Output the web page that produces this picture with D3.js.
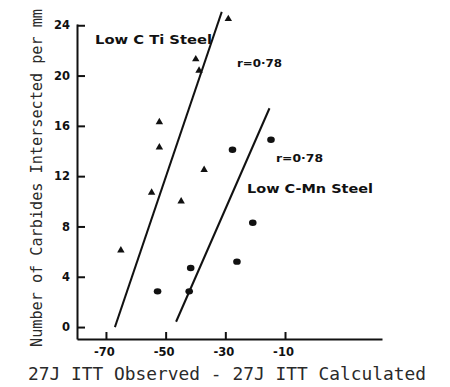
<!DOCTYPE html>
<html>
<head>
<meta charset="utf-8">
<script src="https://cdn.jsdelivr.net/npm/d3@7"></script>
<style>
  html, body { margin: 0; padding: 0; background: #fff; }
  svg { display: block; }
</style>
</head>
<body>
<svg id="chart" width="450" height="387"></svg>
<script>
// Low C Ti steel (triangles)
const tiX = [-65.0, -54.7, -52.1, -52.1, -44.8, -39.9, -38.8, -37.1, -29.0];
const tiY = [6.1, 10.7, 14.3, 16.3, 10.0, 21.3, 20.4, 12.5, 24.5];

// Low C-Mn steel (circles)
const mnX = [-52.7, -42.1, -41.6, -27.6, -26.1, -20.8, -14.7];
const mnY = [2.84, 2.84, 4.7, 14.1, 5.2, 8.3, 14.9];

// Regression lines, given by their end points
const tiFitX = [-67.0, -31.2];
const tiFitY = [0.0, 25.06];
const mnFitX = [-46.5, -15.2];
const mnFitY = [0.42, 17.4];

// Axis ticks
const xTicks = [-70, -50, -30, -10];
const yTicks = [0, 4, 8, 12, 16, 20, 24];

const xTitle = "27J ITT Observed - 27J ITT Calculated";
const yTitle = "Number of Carbides Intersected per mm";
const rLabel = "r=0\u00B778";

const svg = d3.select("#chart");

const x = d3.scaleLinear().domain([-79.7, 22.5]).range([77, 382]);
const y = d3.scaleLinear().domain([-0.95, 24.1]).range([339, 24]);

const tickFont = "'DejaVu Sans', sans-serif";

// X axis with inward ticks
const gx = svg.append("g")
  .attr("transform", `translate(0,${y(-0.95)})`)
  .call(d3.axisBottom(x).tickValues(xTicks).tickSizeInner(-7).tickSizeOuter(0)
    .tickFormat(d => String(d).replace("\u2212", "-")));
gx.select(".domain").attr("stroke", "#111").attr("stroke-width", 2);
gx.selectAll(".tick line").attr("stroke", "#111").attr("stroke-width", 2);
gx.selectAll(".tick text")
  .attr("y", 9).attr("dy", "0.71em").attr("dx", -2)
  .attr("font-family", tickFont).attr("font-weight", "bold")
  .attr("font-size", 11.5).attr("fill", "#111");

// Y axis with inward ticks
const gy = svg.append("g")
  .attr("transform", `translate(${x(-79.7)},0)`)
  .call(d3.axisLeft(y).tickValues(yTicks).tickSizeInner(-8).tickSizeOuter(0));
gy.select(".domain").attr("stroke", "#111").attr("stroke-width", 2);
gy.selectAll(".tick line").attr("stroke", "#111").attr("stroke-width", 2);
gy.selectAll(".tick text")
  .attr("x", -7)
  .attr("font-family", tickFont).attr("font-weight", "bold")
  .attr("font-size", 11.5).attr("fill", "#111");

// Fit lines
const line = d3.line().x(d => x(d[0])).y(d => y(d[1]));
svg.append("path")
  .datum(tiFitX.map((v, i) => [v, tiFitY[i]]))
  .attr("d", line).attr("fill", "none").attr("stroke", "#111").attr("stroke-width", 2);
svg.append("path")
  .datum(mnFitX.map((v, i) => [v, mnFitY[i]]))
  .attr("d", line).attr("fill", "none").attr("stroke", "#111").attr("stroke-width", 2);

// Triangles
const tri = d3.symbol().type(d3.symbolTriangle).size(24);
svg.append("g").selectAll("path")
  .data(tiX.map((v, i) => [v, tiY[i]]))
  .join("path")
  .attr("d", tri)
  .attr("transform", d => `translate(${x(d[0])},${y(d[1])})`)
  .attr("fill", "#111");

// Circles
svg.append("g").selectAll("ellipse")
  .data(mnX.map((v, i) => [v, mnY[i]]))
  .join("ellipse")
  .attr("cx", d => x(d[0])).attr("cy", d => y(d[1]))
  .attr("rx", 3.8).attr("ry", 3.2)
  .attr("fill", "#111");

// Annotations
const ann = svg.append("g")
  .attr("font-family", tickFont).attr("font-weight", "bold").attr("fill", "#111");
ann.append("text").attr("x", 95).attr("y", 44).attr("font-size", 13)
  .attr("textLength", 117).attr("lengthAdjust", "spacingAndGlyphs")
  .text("Low C Ti Steel");
ann.append("text").attr("x", 237).attr("y", 67).attr("font-size", 10.5)
  .attr("textLength", 45).attr("lengthAdjust", "spacingAndGlyphs")
  .text(rLabel);
ann.append("text").attr("x", 276).attr("y", 162).attr("font-size", 10.5)
  .attr("textLength", 47).attr("lengthAdjust", "spacingAndGlyphs")
  .text(rLabel);
ann.append("text").attr("x", 247).attr("y", 193).attr("font-size", 13)
  .attr("textLength", 126).attr("lengthAdjust", "spacingAndGlyphs")
  .text("Low C-Mn Steel");

// Axis titles
svg.append("text")
  .attr("x", 28).attr("y", 380)
  .attr("font-family", "'DejaVu Sans Mono', monospace")
  .attr("font-size", 18).attr("fill", "#2a2a2a")
  .attr("textLength", 398).attr("lengthAdjust", "spacingAndGlyphs")
  .text(xTitle);

svg.append("text")
  .attr("transform", "translate(42,347) rotate(-90)")
  .attr("font-family", "'DejaVu Sans Mono', monospace")
  .attr("font-size", 15).attr("fill", "#2a2a2a")
  .attr("textLength", 338).attr("lengthAdjust", "spacingAndGlyphs")
  .text(yTitle);
</script>
</body>
</html>
